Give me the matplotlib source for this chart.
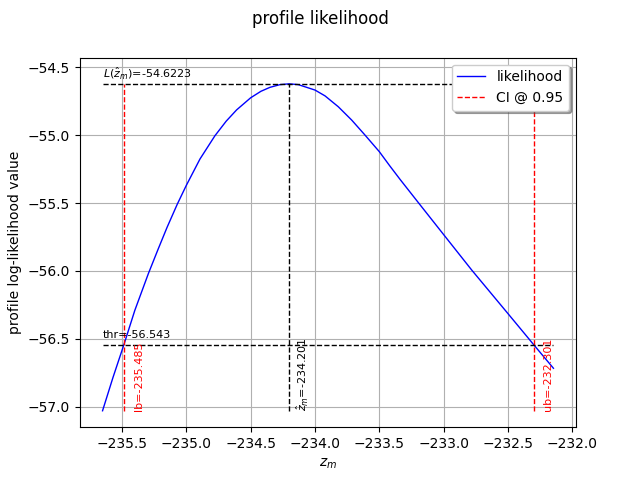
import matplotlib
matplotlib.use('Agg')
import matplotlib.pyplot as plt

# values
z_m = [-235.651, -235.57, -235.485, -235.40, -235.295, -235.22, -235.15,
       -235.07, -235.0, -234.894, -234.778, -234.69, -234.609, -234.5,
       -234.42, -234.35, -234.272, -234.201, -234.130, -234.0, -233.922,
       -233.819, -233.715, -233.611, -233.5, -233.42, -233.339, -233.197,
       -233.0, -232.781, -232.5, -232.340, -232.301, -232.147]
loglik = [-57.03, -56.785, -56.543, -56.29, -56.02, -55.842, -55.68,
          -55.508, -55.37, -55.176, -55.005, -54.897, -54.814, -54.725,
          -54.677, -54.648, -54.628, -54.6223, -54.628, -54.668, -54.711,
          -54.791, -54.889, -55.0, -55.122, -55.225, -55.326, -55.497,
          -55.733, -55.995, -56.315, -56.498, -56.543, -56.717]

z_hat = -234.201
l_max = -54.6223
thr = -56.543
lb = -235.485
ub = -232.301
level = 0.95

fig = plt.figure(figsize=(6.4, 4.8), dpi=100)
ax = fig.add_subplot(111)
fig.suptitle('profile likelihood')

ax.plot(z_m, loglik, '-', color='b', lw=1, label='likelihood')
ymin = loglik[0]
ax.plot([lb, lb], [ymin, l_max], '--', color='r', lw=1, label='CI @ %g' % level)
ax.plot([ub, ub], [ymin, l_max], '--', color='r', lw=1)
ax.plot([z_hat, z_hat], [ymin, l_max], '--', color='k', lw=1)
ax.plot([z_m[0], z_m[-1]], [l_max, l_max], '--', color='k', lw=1)
ax.plot([z_m[0], z_m[-1]], [thr, thr], '--', color='k', lw=1)

ax.annotate(r'$L(\hat{z}_m)$=%g' % l_max, (z_m[0], l_max), xytext=(0, 2),
            textcoords='offset points', fontsize=8, va='bottom')
ax.annotate('thr=%g' % thr, (z_m[0], thr), xytext=(0, 3),
            textcoords='offset points', fontsize=8, va='bottom')
ax.annotate('lb=%g' % lb, (lb, ymin), xytext=(7, 0), textcoords='offset points',
            fontsize=8, color='r', rotation=90, va='bottom', ha='left')
ax.annotate('ub=%g' % ub, (ub, ymin), xytext=(7, 0), textcoords='offset points',
            fontsize=8, color='r', rotation=90, va='bottom', ha='left')
ax.annotate(r'$\hat{z}_m$=%g' % z_hat, (z_hat, ymin), xytext=(4, 0),
            textcoords='offset points', fontsize=8, rotation=90, va='bottom', ha='left')

ax.set_ylim(-57.151, -54.429)
ax.set_xlabel('$z_m$')
ax.set_ylabel('profile log-likelihood value')
ax.legend(loc='upper right', shadow=True)
ax.grid()

plt.savefig('out.png')
